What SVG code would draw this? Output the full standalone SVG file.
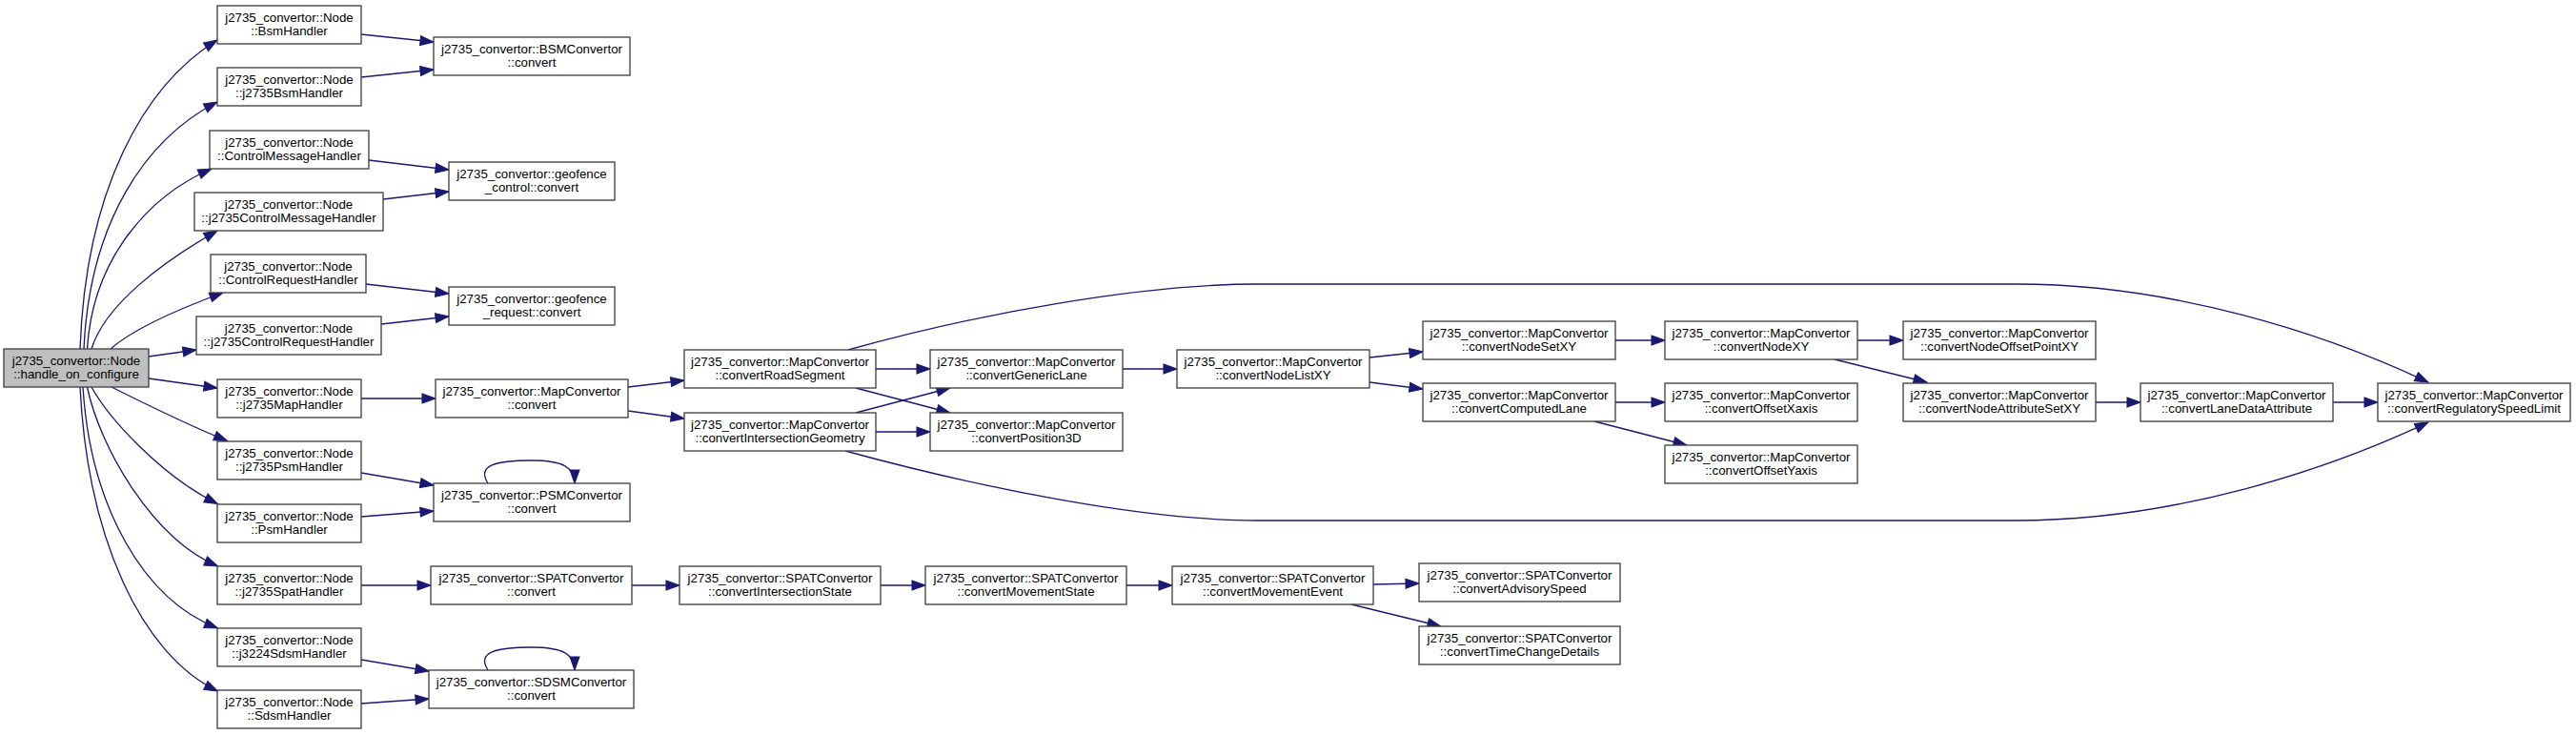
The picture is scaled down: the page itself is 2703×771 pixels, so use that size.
<svg xmlns="http://www.w3.org/2000/svg" width="2703" height="771" viewBox="0 0 2703 771">
<style>
  .n rect { fill: #ffffff; stroke: #404040; stroke-width: 1.33; }
  .n.hl rect { fill: #bfbfbf; }
  .n text { font-family: "Liberation Sans", Arial, sans-serif; font-size: 13.3px; fill: #000000; text-anchor: middle; }
  .e path { fill: none; stroke: #191970; stroke-width: 1.33; marker-end: url(#ah); }
</style>
<defs>
  <marker id="ah" markerUnits="userSpaceOnUse" markerWidth="14" markerHeight="10" viewBox="0 0 13.3 9.4" refX="13.3" refY="4.7" orient="auto" overflow="visible">
    <polygon points="0,0 13.3,4.7 0,9.4" fill="#191970" stroke="#191970" stroke-width="1"/>
  </marker>
</defs>
<rect x="0" y="0" width="2703" height="771" fill="#ffffff"/>

<g id="edges" class="e">
  <!-- from handle_on_configure -->
  <path d="M84,366 C90,200 150,90 228,42"/>
  <path d="M88,366 C94,234 152,146 228,107"/>
  <path d="M91.5,366 C97.5,270 157,205 222,177"/>
  <path d="M96,366 C110,320 170,275 228,242"/>
  <path d="M116,366 C140,345 185,325 234,307"/>
  <path d="M156,374 L206,367"/>
  <path d="M156,397 L228,407"/>
  <path d="M117,406 C145,420 200,447 238.5,462.5"/>
  <path d="M96,406 C115,440 170,500 228.5,528.5"/>
  <path d="M91.5,406 C105,470 160,565 228.5,594"/>
  <path d="M87,406 C95,532 150.7,629 228.5,659"/>
  <path d="M84,406 C92,566 149,687 228.5,725"/>
  <!-- handlers to convertors -->
  <path d="M379,36 L455,44"/>
  <path d="M379,81 L455,73"/>
  <path d="M387,168 L471,178"/>
  <path d="M402,209 L471,201"/>
  <path d="M384,298 L471,308"/>
  <path d="M400,340 L471,332"/>
  <path d="M379,418 L457,418"/>
  <path d="M379,496 L455,509"/>
  <path d="M379,542 L455,536"/>
  <path d="M379,614 L452,614"/>
  <path d="M379,692 L450,704"/>
  <path d="M379,738 L450,733"/>
  <!-- self loops -->
  <path d="M512,507 C500,488 520,483 558,483 C590,483 603,490 603,507"/>
  <path d="M512,703 C500,684 520,679 558,679 C590,679 603,686 603,703"/>
  <!-- MapConvertor -->
  <path d="M659,406 L718,399"/>
  <path d="M659,431 L718,439"/>
  <path d="M919,387 L976,387"/>
  <path d="M898,407 L997,433"/>
  <path d="M898,433 L997,407"/>
  <path d="M919,453 L976,453"/>
  <path d="M890,367 C1030,328 1200,298 1320,298 L2116,298 C2280,298 2440,350 2548,401"/>
  <path d="M887,473 C1030,512 1200,546 1320,546 L2116,546 C2280,546 2440,494 2548,443"/>
  <path d="M1178,387 L1235,387"/>
  <path d="M1437,375 L1493,369"/>
  <path d="M1437,401 L1493,408"/>
  <path d="M1695,357 L1747,357"/>
  <path d="M1695,422 L1747,422"/>
  <path d="M1673,442 L1770,467"/>
  <path d="M1949,357 L1997,357"/>
  <path d="M1925,377 L2022,401"/>
  <path d="M2199,422 L2246,422"/>
  <path d="M2448,422 L2495,422"/>
  <!-- SPATConvertor -->
  <path d="M663,614 L713,614"/>
  <path d="M924,614 L971,614"/>
  <path d="M1182,614 L1230,614"/>
  <path d="M1441,613 L1489,612"/>
  <path d="M1418,634 L1512,657"/>
</g>

<g id="handle_on_configure" class="n hl"><rect x="4" y="366" width="152" height="40"/><text x="80" y="382.7">j2735_convertor::Node</text><text x="80" y="397.3">::handle_on_configure</text></g>

<g id="BsmHandler" class="n"><rect x="228" y="6" width="151" height="40"/><text x="303.5" y="22.7">j2735_convertor::Node</text><text x="303.5" y="37.3">::BsmHandler</text></g>
<g id="j2735BsmHandler" class="n"><rect x="228" y="71" width="151" height="40"/><text x="303.5" y="87.7">j2735_convertor::Node</text><text x="303.5" y="102.3">::j2735BsmHandler</text></g>
<g id="ControlMessageHandler" class="n"><rect x="220" y="137" width="167" height="40"/><text x="303.5" y="153.7">j2735_convertor::Node</text><text x="303.5" y="168.3">::ControlMessageHandler</text></g>
<g id="j2735ControlMessageHandler" class="n"><rect x="204" y="202" width="198" height="40"/><text x="303" y="218.7">j2735_convertor::Node</text><text x="303" y="233.3">::j2735ControlMessageHandler</text></g>
<g id="ControlRequestHandler" class="n"><rect x="221" y="267" width="163" height="40"/><text x="302.5" y="283.7">j2735_convertor::Node</text><text x="302.5" y="298.3">::ControlRequestHandler</text></g>
<g id="j2735ControlRequestHandler" class="n"><rect x="206" y="332" width="194" height="40"/><text x="303" y="348.7">j2735_convertor::Node</text><text x="303" y="363.3">::j2735ControlRequestHandler</text></g>
<g id="j2735MapHandler" class="n"><rect x="228" y="398" width="151" height="40"/><text x="303.5" y="414.7">j2735_convertor::Node</text><text x="303.5" y="429.3">::j2735MapHandler</text></g>
<g id="j2735PsmHandler" class="n"><rect x="228" y="463" width="151" height="40"/><text x="303.5" y="479.7">j2735_convertor::Node</text><text x="303.5" y="494.3">::j2735PsmHandler</text></g>
<g id="PsmHandler" class="n"><rect x="228" y="529" width="151" height="40"/><text x="303.5" y="545.7">j2735_convertor::Node</text><text x="303.5" y="560.3">::PsmHandler</text></g>
<g id="j2735SpatHandler" class="n"><rect x="228" y="594" width="151" height="40"/><text x="303.5" y="610.7">j2735_convertor::Node</text><text x="303.5" y="625.3">::j2735SpatHandler</text></g>
<g id="j3224SdsmHandler" class="n"><rect x="228" y="659" width="151" height="40"/><text x="303.5" y="675.7">j2735_convertor::Node</text><text x="303.5" y="690.3">::j3224SdsmHandler</text></g>
<g id="SdsmHandler" class="n"><rect x="228" y="724" width="151" height="40"/><text x="303.5" y="740.7">j2735_convertor::Node</text><text x="303.5" y="755.3">::SdsmHandler</text></g>

<g id="BSMConvertor_convert" class="n"><rect x="455" y="39" width="206" height="40"/><text x="558" y="55.7">j2735_convertor::BSMConvertor</text><text x="558" y="70.3">::convert</text></g>
<g id="geofence_control_convert" class="n"><rect x="471" y="170" width="174" height="40"/><text x="558" y="186.7">j2735_convertor::geofence</text><text x="558" y="201.3">_control::convert</text></g>
<g id="geofence_request_convert" class="n"><rect x="471" y="301" width="174" height="40"/><text x="558" y="317.7">j2735_convertor::geofence</text><text x="558" y="332.3">_request::convert</text></g>
<g id="MapConvertor_convert" class="n"><rect x="457" y="398" width="202" height="40"/><text x="558" y="414.7">j2735_convertor::MapConvertor</text><text x="558" y="429.3">::convert</text></g>
<g id="PSMConvertor_convert" class="n"><rect x="455" y="507" width="206" height="40"/><text x="558" y="523.7">j2735_convertor::PSMConvertor</text><text x="558" y="538.3">::convert</text></g>
<g id="SPATConvertor_convert" class="n"><rect x="452" y="594" width="211" height="40"/><text x="557.5" y="610.7">j2735_convertor::SPATConvertor</text><text x="557.5" y="625.3">::convert</text></g>
<g id="SDSMConvertor_convert" class="n"><rect x="450" y="703" width="215" height="40"/><text x="557.5" y="719.7">j2735_convertor::SDSMConvertor</text><text x="557.5" y="734.3">::convert</text></g>

<g id="convertRoadSegment" class="n"><rect x="718" y="367" width="201" height="40"/><text x="818.5" y="383.7">j2735_convertor::MapConvertor</text><text x="818.5" y="398.3">::convertRoadSegment</text></g>
<g id="convertIntersectionGeometry" class="n"><rect x="718" y="433" width="201" height="40"/><text x="818.5" y="449.7">j2735_convertor::MapConvertor</text><text x="818.5" y="464.3">::convertIntersectionGeometry</text></g>
<g id="convertIntersectionState" class="n"><rect x="713" y="594" width="211" height="40"/><text x="818.5" y="610.7">j2735_convertor::SPATConvertor</text><text x="818.5" y="625.3">::convertIntersectionState</text></g>

<g id="convertGenericLane" class="n"><rect x="976" y="367" width="202" height="40"/><text x="1077" y="383.7">j2735_convertor::MapConvertor</text><text x="1077" y="398.3">::convertGenericLane</text></g>
<g id="convertPosition3D" class="n"><rect x="976" y="433" width="202" height="40"/><text x="1077" y="449.7">j2735_convertor::MapConvertor</text><text x="1077" y="464.3">::convertPosition3D</text></g>
<g id="convertMovementState" class="n"><rect x="971" y="594" width="211" height="40"/><text x="1076.5" y="610.7">j2735_convertor::SPATConvertor</text><text x="1076.5" y="625.3">::convertMovementState</text></g>

<g id="convertNodeListXY" class="n"><rect x="1235" y="367" width="202" height="40"/><text x="1336" y="383.7">j2735_convertor::MapConvertor</text><text x="1336" y="398.3">::convertNodeListXY</text></g>
<g id="convertMovementEvent" class="n"><rect x="1230" y="594" width="211" height="40"/><text x="1335.5" y="610.7">j2735_convertor::SPATConvertor</text><text x="1335.5" y="625.3">::convertMovementEvent</text></g>

<g id="convertNodeSetXY" class="n"><rect x="1493" y="337" width="202" height="40"/><text x="1594" y="353.7">j2735_convertor::MapConvertor</text><text x="1594" y="368.3">::convertNodeSetXY</text></g>
<g id="convertComputedLane" class="n"><rect x="1493" y="402" width="202" height="40"/><text x="1594" y="418.7">j2735_convertor::MapConvertor</text><text x="1594" y="433.3">::convertComputedLane</text></g>
<g id="convertAdvisorySpeed" class="n"><rect x="1489" y="591" width="211" height="40"/><text x="1594.5" y="607.7">j2735_convertor::SPATConvertor</text><text x="1594.5" y="622.3">::convertAdvisorySpeed</text></g>
<g id="convertTimeChangeDetails" class="n"><rect x="1489" y="657" width="211" height="40"/><text x="1594.5" y="673.7">j2735_convertor::SPATConvertor</text><text x="1594.5" y="688.3">::convertTimeChangeDetails</text></g>

<g id="convertNodeXY" class="n"><rect x="1747" y="337" width="202" height="40"/><text x="1848" y="353.7">j2735_convertor::MapConvertor</text><text x="1848" y="368.3">::convertNodeXY</text></g>
<g id="convertOffsetXaxis" class="n"><rect x="1747" y="402" width="202" height="40"/><text x="1848" y="418.7">j2735_convertor::MapConvertor</text><text x="1848" y="433.3">::convertOffsetXaxis</text></g>
<g id="convertOffsetYaxis" class="n"><rect x="1747" y="467" width="202" height="40"/><text x="1848" y="483.7">j2735_convertor::MapConvertor</text><text x="1848" y="498.3">::convertOffsetYaxis</text></g>

<g id="convertNodeOffsetPointXY" class="n"><rect x="1997" y="337" width="202" height="40"/><text x="2098" y="353.7">j2735_convertor::MapConvertor</text><text x="2098" y="368.3">::convertNodeOffsetPointXY</text></g>
<g id="convertNodeAttributeSetXY" class="n"><rect x="1997" y="402" width="202" height="40"/><text x="2098" y="418.7">j2735_convertor::MapConvertor</text><text x="2098" y="433.3">::convertNodeAttributeSetXY</text></g>

<g id="convertLaneDataAttribute" class="n"><rect x="2246" y="402" width="202" height="40"/><text x="2347" y="418.7">j2735_convertor::MapConvertor</text><text x="2347" y="433.3">::convertLaneDataAttribute</text></g>
<g id="convertRegulatorySpeedLimit" class="n"><rect x="2495" y="402" width="202" height="40"/><text x="2596" y="418.7">j2735_convertor::MapConvertor</text><text x="2596" y="433.3">::convertRegulatorySpeedLimit</text></g>
</svg>
